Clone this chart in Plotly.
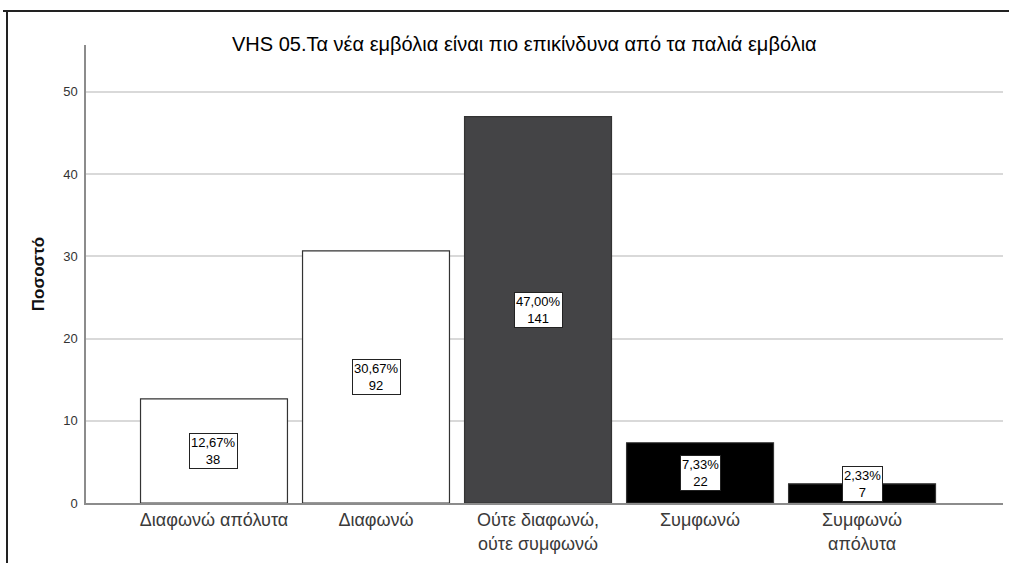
import plotly.graph_objects as go

categories = ["Διαφωνώ απόλυτα", "Διαφωνώ", "Ούτε διαφωνώ,<br>ούτε συμφωνώ", "Συμφωνώ", "Συμφωνώ<br>απόλυτα"]
percents = [12.67, 30.67, 47.00, 7.33, 2.33]
counts = [38, 92, 141, 22, 7]
bar_colors = ["#ffffff", "#ffffff", "#444446", "#000000", "#000000"]

title = "VHS 05.Τα νέα εμβόλια είναι πιο επικίνδυνα από τα παλιά εμβόλια"
y_title = "Ποσοστό"
y_ticks = [0, 10, 20, 30, 40, 50]

W, H = 1009, 563
ml, mr, mt, mb = 86, 6, 45, 60
FONT = "Liberation Sans, Arial, sans-serif"

fig = go.Figure()
xs = list(range(len(categories)))
fig.add_trace(go.Bar(
    x=xs, y=percents,
    marker=dict(color=bar_colors, line=dict(color="#333333", width=1.2)),
    width=0.907,
    hoverinfo="skip",
))

min_center = 2.35
for i, (p, c) in enumerate(zip(percents, counts)):
    txt = f"{p:.2f}".replace(".", ",") + f"%<br>{c}"
    fig.add_annotation(
        x=i, y=max(p / 2, min_center), xref="x", yref="y",
        text=txt, showarrow=False,
        font=dict(family=FONT, size=13, color="#000000"),
        bgcolor="#ffffff", bordercolor="#222222", borderwidth=1, borderpad=1,
    )

px = lambda v: (v - ml) / (W - ml - mr)
py = lambda v: (H - mb - v) / (H - mt - mb)

fig.add_annotation(
    x=px(524), y=py(31),
    xref="paper", yref="paper", text=title, showarrow=False,
    font=dict(family=FONT, size=20, color="#000000"),
)

# outer frame (top and left edges)
fig.add_shape(type="line", xref="paper", yref="paper", x0=px(3), x1=px(1012), y0=py(11), y1=py(11),
              line=dict(color="#222222", width=2))
fig.add_shape(type="line", xref="paper", yref="paper", x0=px(7), x1=px(7), y0=py(11), y1=py(570),
              line=dict(color="#222222", width=2))

fig.update_layout(
    width=W, height=H,
    margin=dict(l=ml, r=mr, t=mt, b=mb),
    paper_bgcolor="#ffffff", plot_bgcolor="#ffffff",
    showlegend=False,
    font=dict(family=FONT),
    xaxis=dict(
        range=[-0.79, 4.87],
        tickmode="array", tickvals=xs, ticktext=categories,
        tickfont=dict(size=18, color="#3a3a3a"),
        showgrid=False, zeroline=False,
        showline=True, linecolor="#8c8c8c", linewidth=1.5,
        ticks="", fixedrange=True,
    ),
    yaxis=dict(
        range=[0, 55.7],
        tickmode="array", tickvals=y_ticks,
        tickfont=dict(size=13, color="#333333"),
        showgrid=True, gridcolor="#d9d9d9", gridwidth=1.5,
        zeroline=False,
        showline=True, linecolor="#8c8c8c", linewidth=1.5,
        ticks="", ticklabelstandoff=4,
        title=dict(text="<b>" + y_title + "</b>", font=dict(size=17, color="#111111"), standoff=14),
        fixedrange=True,
    ),
)

fig.write_html(
    "out.html",
    config={"displayModeBar": False},
    post_script="document.body.style.margin='0';document.body.style.padding='0';document.body.style.overflow='hidden';",
)
